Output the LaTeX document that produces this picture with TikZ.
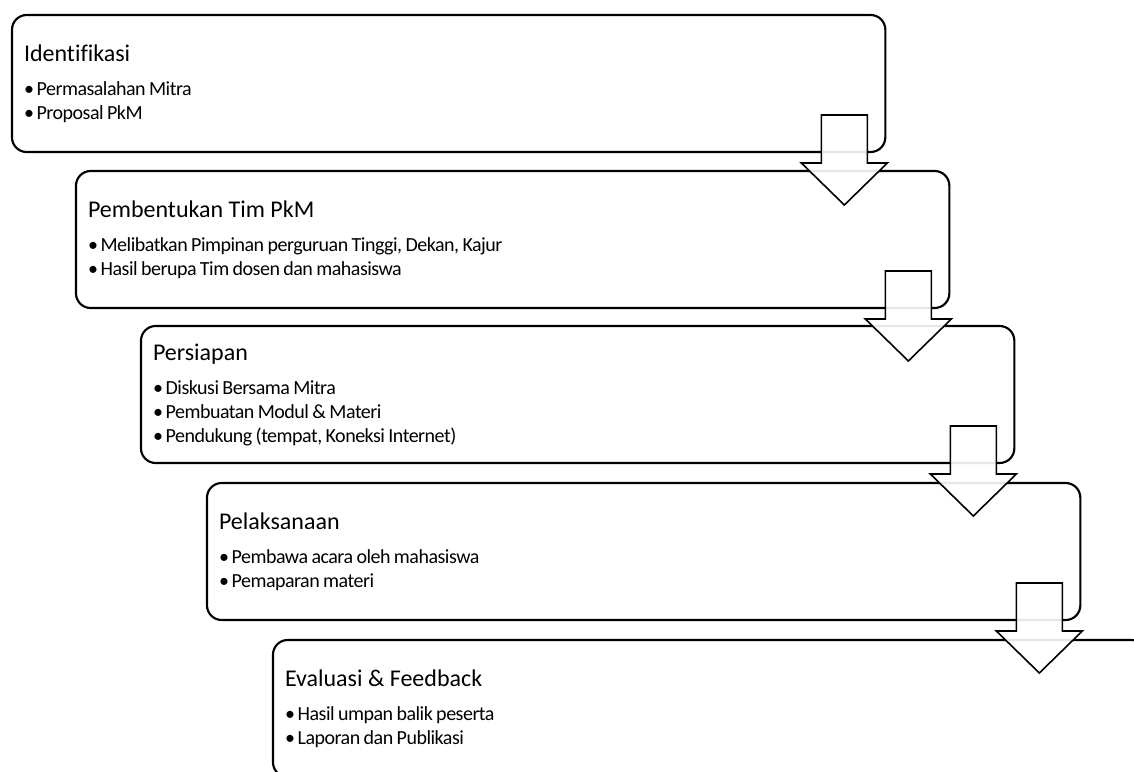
\documentclass[tikz,border=0pt]{standalone}
\usepackage{fontspec}
\setmainfont{Carlito}[Ligatures=NoCommon]
\newfontfamily\itemfont{Carlito}[Ligatures=NoCommon, LetterSpace=-2.5]
\usetikzlibrary{calc}

\newcommand{\steptitle}[1]{{\rmfamily\fontsize{18}{18}\selectfont\spaceskip=0.226em\relax #1}\\[7.5pt]}
\newcommand{\stepitem}{\spaceskip=0.17em\relax\textbullet\hspace{2pt}}

\tikzset{
  stepbox/.style={draw, line width=1.6pt, rounded corners=11pt, anchor=north west,
    outer sep=0pt, minimum height=102.75pt, text width=637pt, inner xsep=9pt,
    align=left, font=\itemfont\fontsize{15}{18}\selectfont},
  blockarrow/.style={draw, line width=1.2pt, fill=white, fill opacity=0.9, draw opacity=1},
}

\begin{document}
\begin{tikzpicture}[x=0.75pt,y=0.75pt,yscale=-1,xscale=1]
	\useasboundingbox (0,0) rectangle (1134,771);
	\clip (0,0) rectangle (1134,771);

	% Step 1
	\node[stepbox] (ident) at (12,15) {\steptitle{Identifikasi}
		\stepitem Permasalahan Mitra\\
		\stepitem Proposal PkM};
	% Step 2
	\node[stepbox] (tim) at (76,171) {\steptitle{Pembentukan Tim PkM}
		\stepitem Melibatkan Pimpinan perguruan Tinggi, Dekan, Kajur\\
		\stepitem Hasil berupa Tim dosen dan mahasiswa};
	% Step 3
	\node[stepbox] (siap) at (141,326) {\steptitle{Persiapan}
		\stepitem Diskusi Bersama Mitra\\
		\stepitem Pembuatan Modul \& Materi\\
		\stepitem Pendukung (tempat, Koneksi Internet)};
	% Step 4
	\node[stepbox] (laksana) at (207,483) {\steptitle{Pelaksanaan}
		\stepitem Pembawa acara oleh mahasiswa\\
		\stepitem Pemaparan materi};
	% Step 5
	\node[stepbox] (eval) at (273,640) {\steptitle{Evaluasi \& Feedback}
		\stepitem Hasil umpan balik peserta\\
		\stepitem Laporan dan Publikasi};

	% Down arrows
	\draw[blockarrow] ($(ident.south east)+(-64,-37)$) -- ++(46,0) -- ++(0,48) -- ++(20,0)
		-- ++(-43,42) -- ++(-43,-42) -- ++(20,0) -- cycle;
	\draw[blockarrow] ($(tim.south east)+(-64,-37)$) -- ++(46,0) -- ++(0,48) -- ++(20,0)
		-- ++(-43,42) -- ++(-43,-42) -- ++(20,0) -- cycle;
	\draw[blockarrow] ($(siap.south east)+(-64,-37)$) -- ++(46,0) -- ++(0,48) -- ++(20,0)
		-- ++(-43,42) -- ++(-43,-42) -- ++(20,0) -- cycle;
	\draw[blockarrow] ($(laksana.south east)+(-64,-37)$) -- ++(46,0) -- ++(0,48) -- ++(20,0)
		-- ++(-43,42) -- ++(-43,-42) -- ++(20,0) -- cycle;

\end{tikzpicture}
\end{document}
